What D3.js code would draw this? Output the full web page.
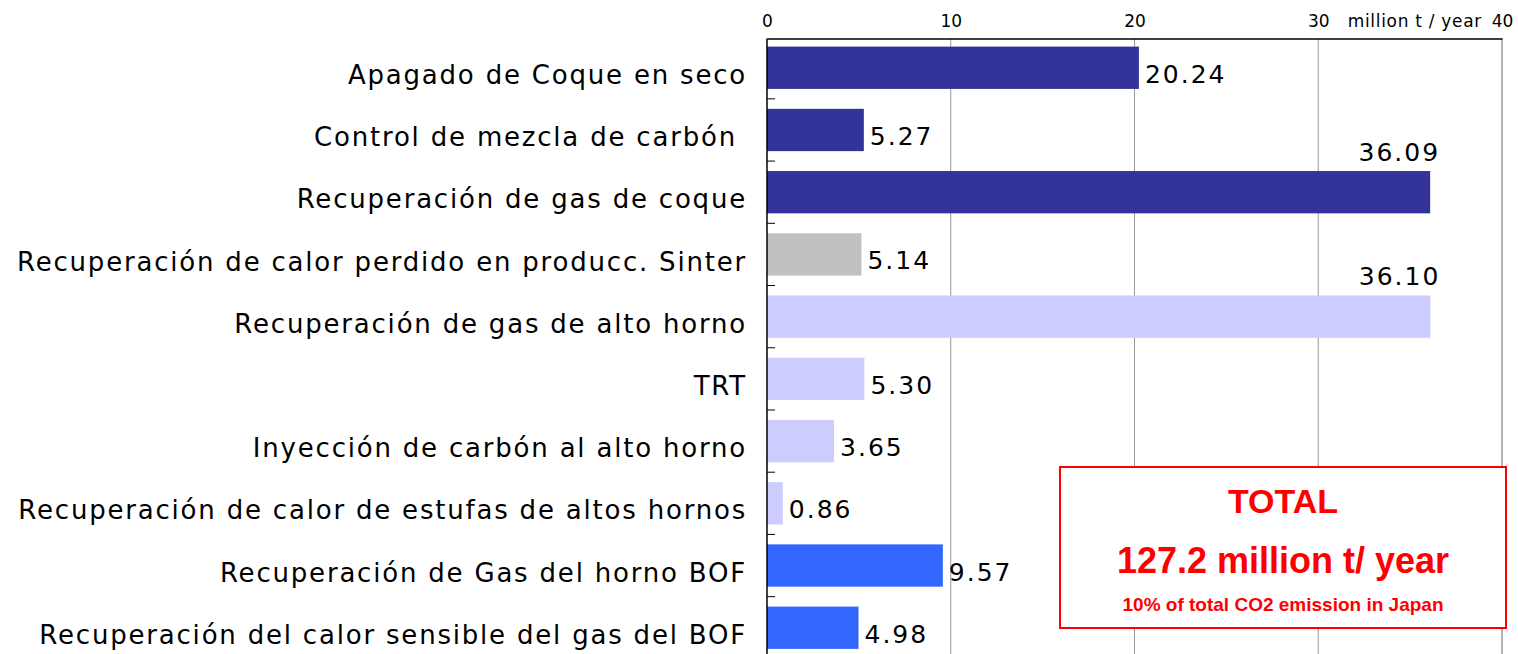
<!DOCTYPE html>
<html><head><meta charset="utf-8">
<script src="https://cdn.jsdelivr.net/npm/d3@7"></script>
<style>body{margin:0;background:#fff}svg{display:block}</style>
</head><body>
<svg id="c" width="1518" height="654"></svg>
<script>
const categories = [
  "Apagado de Coque en seco",
  "Control de mezcla de carbón ",
  "Recuperación de gas de coque",
  "Recuperación de calor perdido en producc. Sinter",
  "Recuperación de gas de alto horno",
  "TRT",
  "Inyección de carbón al alto horno",
  "Recuperación de calor de estufas de altos hornos",
  "Recuperación de Gas del horno BOF",
  "Recuperación del calor sensible del gas del BOF"
];
const values = [20.24, 5.27, 36.09, 5.14, 36.10, 5.30, 3.65, 0.86, 9.57, 4.98];
const valueLabels = ["20.24","5.27","36.09","5.14","36.10","5.30","3.65","0.86","9.57","4.98"];
const groups = ["coke","coke","coke","sinter","bf","bf","bf","bf","bof","bof"];
const groupColors = {coke:"#333399", sinter:"#c0c0c0", bf:"#ccccff", bof:"#3366ff"};
const xTicks = [0, 10, 20, 30, 40];
const unitLabel = "million t / year";
const totalLines = ["TOTAL", "127.2 million t/ year", "10% of total CO2 emission in Japan"];

const top0 = 38.5;
const FONT = "DejaVu Sans, Verdana, sans-serif";
const svg = d3.select("#c");
const x = d3.scaleLinear().domain([0, 40]).range([767, 1502]);
const y = d3.scaleBand().domain(categories).range([top0, 657]).paddingInner(0.32).paddingOuter(0.13);

// gridlines
svg.append("g").selectAll("line").data(xTicks.filter(d => d > 0)).join("line")
  .attr("x1", d => x(d)).attr("x2", d => x(d)).attr("y1", top0).attr("y2", 654)
  .attr("stroke", d => d === 40 ? "#666" : "#999").attr("stroke-width", 1);

// top axis
const xAxis = svg.append("g").attr("transform", `translate(0,${top0})`)
  .call(d3.axisTop(x).tickValues(xTicks).tickSize(0).tickPadding(12).tickFormat(d3.format("d")));
xAxis.attr("font-size", 17).attr("font-family", FONT);
xAxis.select(".domain").attr("stroke", "#000").attr("stroke-width", 1.5);
xAxis.selectAll("text").attr("fill", "#000");
svg.append("text").attr("x", x(40) - 20).attr("y", top0 - 12)
  .attr("text-anchor", "end").attr("font-family", FONT).attr("letter-spacing", 0.7)
  .attr("font-size", 17).text(unitLabel);

// bars
svg.append("g").selectAll("rect").data(values).join("rect")
  .attr("x", x(0)).attr("y", (d, i) => y(categories[i]))
  .attr("width", d => x(d) - x(0)).attr("height", y.bandwidth())
  .attr("fill", (d, i) => groupColors[groups[i]]);

// left axis labels
const yAxis = svg.append("g").attr("transform", `translate(${x(0)},0)`)
  .call(d3.axisLeft(y).tickSize(0).tickPadding(20));
yAxis.attr("font-size", 26).attr("font-family", FONT);
yAxis.select(".domain").remove();
yAxis.selectAll("text").attr("letter-spacing", 1.8).style("white-space", "pre").attr("fill", "#000").attr("dy", "0.62em");
svg.append("line").attr("x1", x(0)).attr("x2", x(0)).attr("y1", top0).attr("y2", 654).attr("stroke", "#000").attr("stroke-width", 1.5);
// separator ticks between bands
const step = y.step();
svg.append("g").selectAll("line").data(categories.slice(1)).join("line")
  .attr("x1", x(0)).attr("x2", x(0) + 8)
  .attr("y1", d => y(d) - (step - y.bandwidth()) / 2).attr("y2", d => y(d) - (step - y.bandwidth()) / 2)
  .attr("stroke", "#000").attr("stroke-width", 1);

// value labels
svg.append("g").attr("font-family", FONT).attr("font-size", 25)
  .selectAll("text").data(values).join("text")
  .attr("fill", "#000").attr("letter-spacing", 2)
  .attr("x", d => d > 30 ? x(d) + 10 : x(d) + 6)
  .attr("y", (d, i) => d > 30 ? y(categories[i]) - 10 : y(categories[i]) + y.bandwidth() / 2 + 15)
  .attr("text-anchor", d => d > 30 ? "end" : "start")
  .text((d, i) => valueLabels[i]);

// total box
const bx = 1060, bw = 446;
svg.append("rect").attr("x", bx).attr("y", 467).attr("width", bw).attr("height", 161)
  .attr("fill", "#fff").attr("stroke", "#ff0000").attr("stroke-width", 2);
const tl = svg.append("g").attr("font-family", "Liberation Sans, Arial, sans-serif")
  .attr("font-weight", "bold").attr("fill", "#ff0000").attr("text-anchor", "middle");
tl.append("text").attr("x", bx + bw / 2).attr("y", 513).attr("font-size", 34).text(totalLines[0]);
tl.append("text").attr("x", bx + bw / 2).attr("y", 573).attr("font-size", 36).text(totalLines[1]);
tl.append("text").attr("x", bx + bw / 2).attr("y", 611).attr("font-size", 19).text(totalLines[2]);
</script>
</body></html>
